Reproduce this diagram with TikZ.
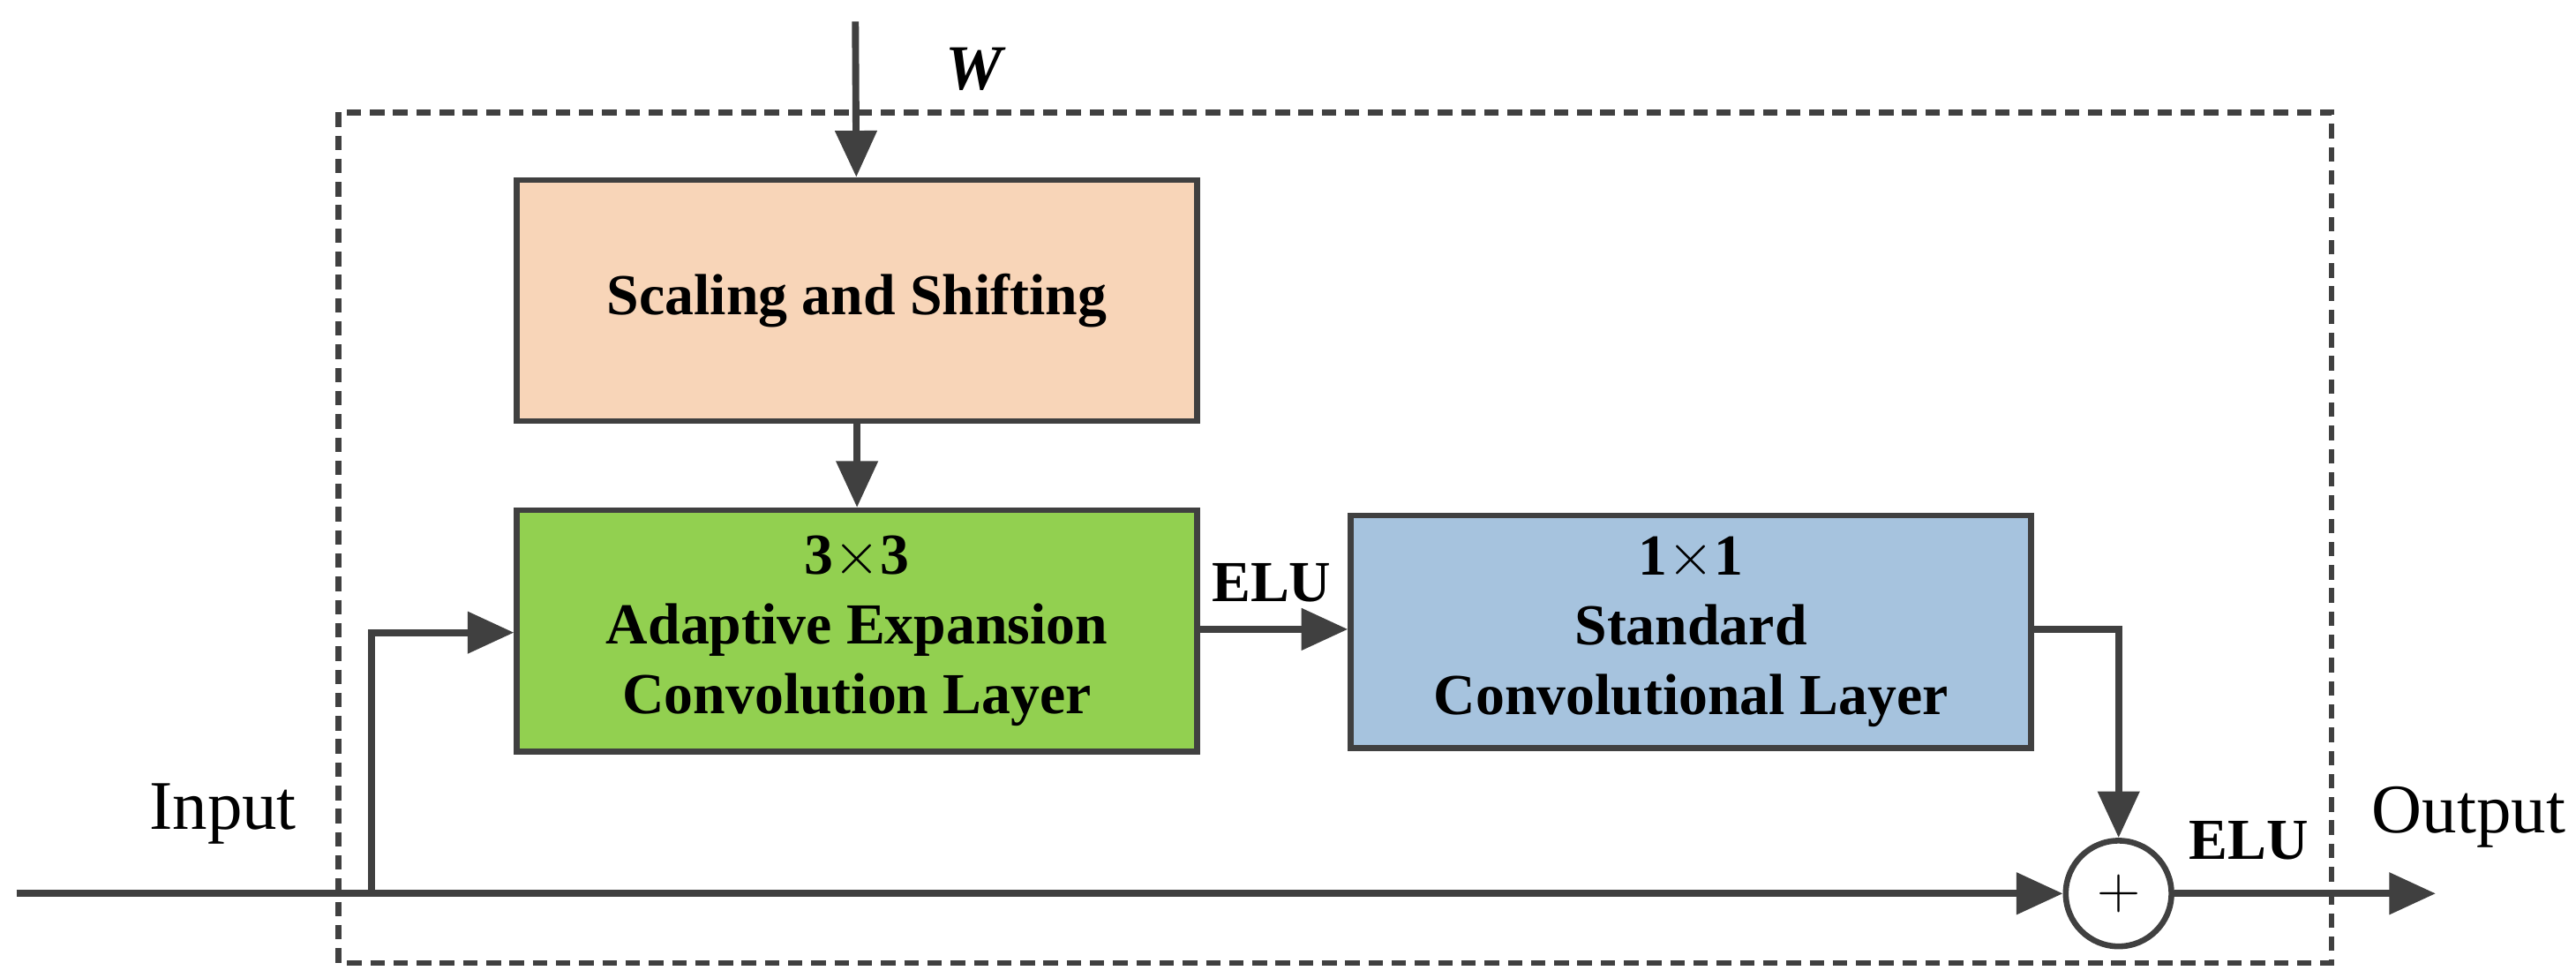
\documentclass[tikz,border=0pt]{standalone}
\usepackage{fontspec}
\setmainfont{Liberation Serif}
\usetikzlibrary{positioning, arrows.meta}

\definecolor{linegray}{HTML}{404040}
\definecolor{peach}{HTML}{F8D5B8}
\definecolor{leaf}{HTML}{92D050}
\definecolor{steel}{HTML}{A6C3DE}

\tikzset{
  block/.style={draw=linegray, line width=2pt, minimum width=8.24cm, align=center,
    font=\fontsize{20}{24}\selectfont\bfseries},
  flow/.style={draw=linegray, line width=2.4pt, -{Triangle[length=16pt, width=14pt]}},
  lbl/.style={font=\fontsize{24}{28}\selectfont}
}

\begin{document}
\begin{tikzpicture}
            \useasboundingbox (0, 0) rectangle (31.2, -11.84);
            \draw [linegray, line width=2pt, dash pattern=on 5pt off 3pt] (4.1, -1.36) rectangle (28.24, -11.66);
            \node[block, fill=peach, minimum height=2.92cm] (scale) at (10.38, -3.64) {Scaling and Shifting};
            \node[block, fill=leaf, minimum height=2.92cm] (expand) at (10.38, -7.64) {3${\times}$3\\Adaptive Expansion\\Convolution Layer};
            \node[block, fill=steel, minimum height=2.82cm] (standard) at (20.48, -7.65) {1${\times}$1\\Standard\\Convolutional Layer};
            \node[draw=linegray, line width=2pt, circle, minimum size=1.28cm, inner sep=0pt] (sum) at (25.66, -10.82) {\fontsize{22}{22}\selectfont$+$};
            \coordinate (wtop) at (10.36, -0.26);
            \coordinate (start) at (0.2, -10.82);
            \coordinate (branch) at (4.5, -10.82);
            \coordinate (out) at (29.5, -10.82);
            \node[lbl, font=\fontsize{22}{26}\selectfont\bfseries\itshape] (w) at (11.8, -0.84) {W};
            \node[lbl] (input) at (2.7, -9.86) {Input};
            \node[lbl] (output) at (29.9, -9.9) {Output};
            \node[font=\fontsize{20}{24}\selectfont\bfseries] (elu1) at (15.4, -7.06) {ELU};
            \node[font=\fontsize{20}{24}\selectfont\bfseries] (elu2) at (27.24, -10.18) {ELU};

            \draw [flow] (wtop) -- (scale);
            \draw [flow] (scale) -- (expand);
            \draw [flow] (expand.east |- 0, -7.62) -- (standard.west |- 0, -7.62);
            \draw [flow] (start) -- (sum);
            \draw [flow] (branch) |- (expand.west |- 0, -7.66);
            \draw [flow] (standard.east |- 0, -7.62) -| (sum);
            \draw [flow] (sum) -- (out);
        \end{tikzpicture}
\end{document}
